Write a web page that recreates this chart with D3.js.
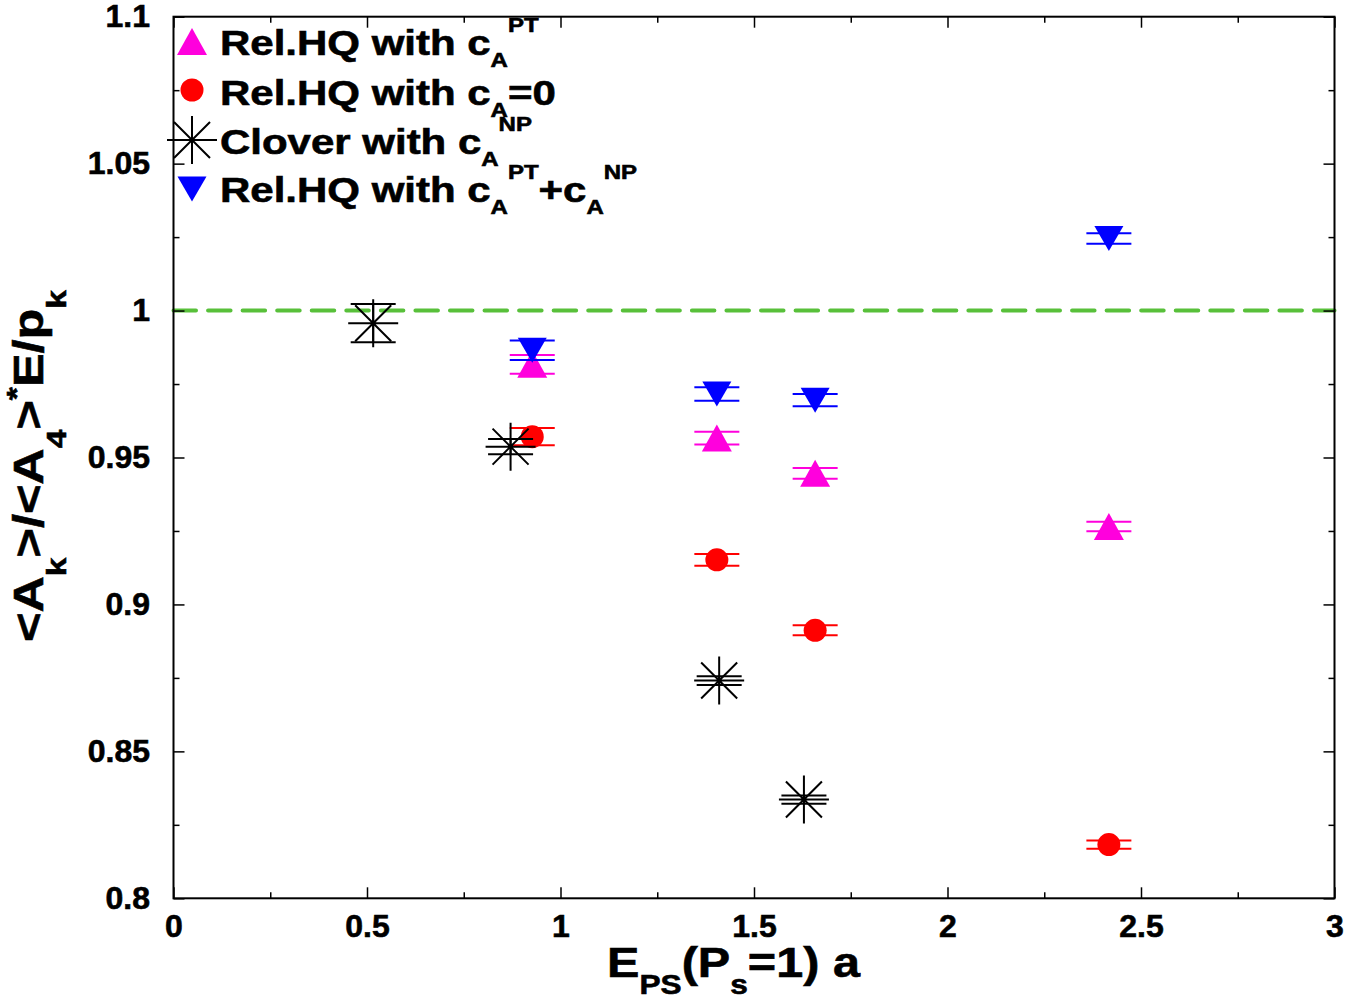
<!DOCTYPE html>
<html>
<head>
<meta charset="utf-8">
<script src="https://cdn.jsdelivr.net/npm/d3@7"></script>
<style>
  html, body { margin: 0; padding: 0; background: #fff; }
  svg { display: block; font-family: "Liberation Sans", Arial, sans-serif; font-weight: bold; }
  svg text { stroke: #000; stroke-width: 0.6px; }
</style>
</head>
<body>
<svg id="chart"></svg>
<script>
// x positions (E_PS a) and values
const E_REL        = [0.927, 1.404, 1.658, 2.417];
const E_CLOVER     = [0.516, 0.871, 1.410, 1.629];

const Y_PT         = [0.9817, 0.9566, 0.9446, 0.9265];
const ERR_PT       = [0.0032, 0.0022, 0.0018, 0.0016];
const Y_ZERO       = [0.9571, 0.9152, 0.8912, 0.8183];
const ERR_ZERO     = [0.0029, 0.0020, 0.0017, 0.0014];
const Y_CLOVER     = [0.9957, 0.9537, 0.8741, 0.8336];
const ERR_CLOVER   = [0.0065, 0.0026, 0.0015, 0.0014];
const Y_PTNP       = [0.9865, 0.9716, 0.9695, 1.0245];
const ERR_PTNP     = [0.0033, 0.0023, 0.0021, 0.0018];

const X_TICKS       = [0, 0.5, 1, 1.5, 2, 2.5, 3];
const X_TICK_LABELS = ["0", "0.5", "1", "1.5", "2", "2.5", "3"];
const X_MINOR       = [0.25, 0.75, 1.25, 1.75, 2.25, 2.75];
const Y_TICKS       = [0.8, 0.85, 0.9, 0.95, 1, 1.05, 1.1];
const Y_TICK_LABELS = ["0.8", "0.85", "0.9", "0.95", "1", "1.05", "1.1"];
const Y_MINOR       = [0.825, 0.875, 0.925, 0.975, 1.025, 1.075];
const REF_LINE      = 1;

const W = 1359, H = 998;
const M = { top: 16.7, right: 24.5, bottom: 99.7, left: 173.5 };

const MAGENTA = "#ff00dd", RED = "#ff0000", BLUE = "#0000ff", GREEN = "#58c03a";

const svg = d3.select("#chart").attr("width", W).attr("height", H);

const x = d3.scaleLinear().domain([0, 3]).range([M.left, W - M.right]);
const y = d3.scaleLinear().domain([0.8, 1.1]).range([H - M.bottom, M.top]);

// text with sub/superscripts, parts = [[string, "m"|"sub"|"sup"], ...]
function richText(g, parts, big, small, subDy, supDy, anchor) {
  const t = g.append("text").attr("text-anchor", anchor).attr("fill", "#000");
  let cur = 0;
  parts.forEach(([s, mode]) => {
    const target = mode === "sub" ? subDy : mode === "sup" ? -supDy : 0;
    t.append("tspan")
      .attr("dy", target - cur)
      .attr("font-size", mode === "m" ? big : small)
      .text(s);
    cur = target;
  });
  return t;
}

function triPath(cx, cy, up, w, h) {
  const p = d3.path();
  if (up) {
    p.moveTo(cx, cy - h / 2); p.lineTo(cx + w / 2, cy + h / 2); p.lineTo(cx - w / 2, cy + h / 2);
  } else {
    p.moveTo(cx, cy + h / 2); p.lineTo(cx + w / 2, cy - h / 2); p.lineTo(cx - w / 2, cy - h / 2);
  }
  p.closePath();
  return p.toString();
}

function starPath(cx, cy) {
  const p = d3.path();
  p.moveTo(cx - 25, cy); p.lineTo(cx + 25, cy);
  p.moveTo(cx, cy - 24); p.lineTo(cx, cy + 24);
  p.moveTo(cx - 18, cy - 18); p.lineTo(cx + 18, cy + 18);
  p.moveTo(cx - 18, cy + 18); p.lineTo(cx + 18, cy - 18);
  return p.toString();
}

// reference line at 1
svg.append("line")
  .attr("x1", x(0)).attr("x2", x(3))
  .attr("y1", y(REF_LINE)).attr("y2", y(REF_LINE))
  .attr("stroke", GREEN).attr("stroke-width", 4)
  .attr("stroke-dasharray", "22.5,12.06")
  .attr("stroke-linecap", "round");

function drawSeries(xs, ys, errs, color, marker) {
  const g = svg.append("g");
  xs.forEach((xv, i) => {
    const px = x(xv), lo = y(ys[i] - errs[i]), hi = y(ys[i] + errs[i]);
    g.append("line").attr("x1", px).attr("x2", px).attr("y1", lo).attr("y2", hi)
      .attr("stroke", color).attr("stroke-width", 2);
    [lo, hi].forEach(cy => {
      g.append("line").attr("x1", px - 22.5).attr("x2", px + 22.5).attr("y1", cy).attr("y2", cy)
        .attr("stroke", color).attr("stroke-width", 2);
    });
    marker(g, px, y(ys[i]));
  });
}

const upTri   = (g, cx, cy) => g.append("path").attr("d", triPath(cx, cy, true, 30, 27)).attr("fill", MAGENTA);
const dot     = (g, cx, cy) => g.append("circle").attr("cx", cx).attr("cy", cy).attr("r", 11.5).attr("fill", RED);
const star    = (g, cx, cy) => g.append("path").attr("d", starPath(cx, cy)).attr("stroke", "#000").attr("stroke-width", 2).attr("fill", "none");
const downTri = (g, cx, cy) => g.append("path").attr("d", triPath(cx, cy, false, 29, 25)).attr("fill", BLUE);

drawSeries(E_REL, Y_PT, ERR_PT, MAGENTA, upTri);
drawSeries(E_REL, Y_ZERO, ERR_ZERO, RED, dot);
drawSeries(E_CLOVER, Y_CLOVER, ERR_CLOVER, "#000", star);
drawSeries(E_REL, Y_PTNP, ERR_PTNP, BLUE, downTri);

// axes, ticks pointing inwards on all four sides
function styleAxis(ax) {
  ax.select(".domain").remove();
  ax.attr("font-family", null).attr("font-size", null);
  ax.selectAll("line").attr("stroke", "#000").attr("stroke-width", 1.5);
  ax.selectAll("text").attr("font-size", 32).attr("fill", "#000");
}

svg.append("g").attr("transform", `translate(0,${y(0.8)})`)
  .call(d3.axisBottom(x).tickValues(X_TICKS).tickFormat((d, i) => X_TICK_LABELS[i])
    .tickSizeInner(-11).tickSizeOuter(0).tickPadding(16))
  .call(styleAxis);
svg.append("g").attr("transform", `translate(0,${y(0.8)})`)
  .call(d3.axisBottom(x).tickValues(X_MINOR).tickFormat("").tickSizeInner(-6).tickSizeOuter(0))
  .call(styleAxis);
svg.append("g").attr("transform", `translate(0,${y(1.1)})`)
  .call(d3.axisTop(x).tickValues(X_TICKS).tickFormat("").tickSizeInner(-11).tickSizeOuter(0))
  .call(styleAxis);
svg.append("g").attr("transform", `translate(0,${y(1.1)})`)
  .call(d3.axisTop(x).tickValues(X_MINOR).tickFormat("").tickSizeInner(-6).tickSizeOuter(0))
  .call(styleAxis);

svg.append("g").attr("transform", `translate(${x(0)},0)`)
  .call(d3.axisLeft(y).tickValues(Y_TICKS).tickFormat((d, i) => Y_TICK_LABELS[i])
    .tickSizeInner(-11).tickSizeOuter(0).tickPadding(23.5))
  .call(styleAxis);
svg.append("g").attr("transform", `translate(${x(0)},0)`)
  .call(d3.axisLeft(y).tickValues(Y_MINOR).tickFormat("").tickSizeInner(-6).tickSizeOuter(0))
  .call(styleAxis);
svg.append("g").attr("transform", `translate(${x(3)},0)`)
  .call(d3.axisRight(y).tickValues(Y_TICKS).tickFormat("").tickSizeInner(-11).tickSizeOuter(0))
  .call(styleAxis);
svg.append("g").attr("transform", `translate(${x(3)},0)`)
  .call(d3.axisRight(y).tickValues(Y_MINOR).tickFormat("").tickSizeInner(-6).tickSizeOuter(0))
  .call(styleAxis);

svg.append("rect")
  .attr("x", x(0)).attr("y", y(1.1))
  .attr("width", x(3) - x(0)).attr("height", y(0.8) - y(1.1))
  .attr("fill", "none").attr("stroke", "#000").attr("stroke-width", 2);

// axis titles
richText(svg.append("g").attr("transform", "translate(733.5,977) scale(1.13,1)"),
  [["E", "m"], ["PS", "sub"], ["(P", "m"], ["s", "sub"], ["=1) a", "m"]],
  43, 28, 17, 0, "middle");

richText(svg.append("g").attr("transform", "translate(43,466) rotate(-90) scale(1.2,1)"),
  [["<A", "m"], ["k", "sub"], [">/<A", "m"], ["4", "sub"], [">", "m"], ["*", "sup"], ["E/p", "m"], ["k", "sub"]],
  42, 28, 23, 17, "middle");

// legend
const legend = svg.append("g");
upTri(legend, 192, 41.5);
dot(legend, 192, 90);
star(legend, 192, 140);
downTri(legend, 192, 189);

const LEGEND_ROWS = [
  { base: 55,  parts: [["Rel.HQ with c", "m"], ["A", "sub"], ["PT", "sup"]] },
  { base: 105, parts: [["Rel.HQ with c", "m"], ["A", "sub"], ["=0", "m"]] },
  { base: 154, parts: [["Clover with c", "m"], ["A", "sub"], ["NP", "sup"]] },
  { base: 202, parts: [["Rel.HQ with c", "m"], ["A", "sub"], ["PT", "sup"], ["+c", "m"], ["A", "sub"], ["NP", "sup"]] },
];
LEGEND_ROWS.forEach(r => {
  richText(legend.append("g").attr("transform", `translate(220,${r.base}) scale(1.2,1)`),
    r.parts, 35, 20, 12, 23, "start");
});
</script>
</body>
</html>
